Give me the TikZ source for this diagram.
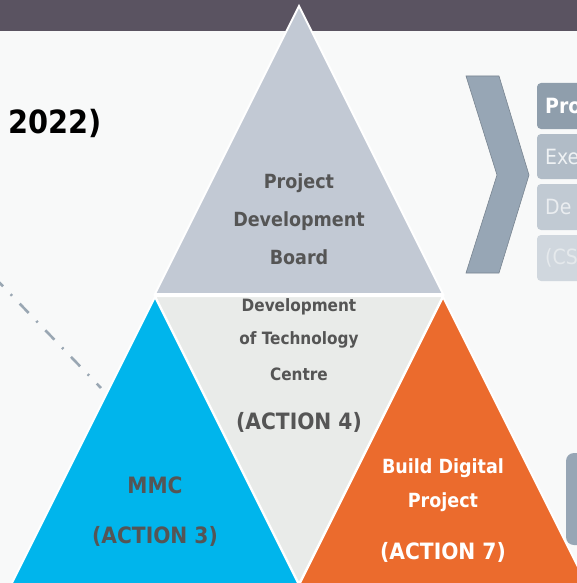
\documentclass[tikz,border=0pt]{standalone}
\usepackage{fontspec}
\setmainfont{DejaVu Sans Condensed}
\usetikzlibrary{positioning}
\definecolor{barpurple}{HTML}{5A5361}
\definecolor{paper}{HTML}{F8F9F9}
\definecolor{boardgray}{HTML}{C2C9D4}
\definecolor{centregray}{HTML}{E9EBE9}
\definecolor{mmcblue}{HTML}{00B5EC}
\definecolor{buildorange}{HTML}{EB6B2D}
\definecolor{chevgray}{HTML}{97A6B5}
\definecolor{inkgray}{HTML}{555555}
\definecolor{linegray}{HTML}{9AA7B3}
\tikzset{
  x=1pt, y=-1pt,
  tri/.style={draw=white, line width=2pt, line join=miter},
  lbl/.style={font=\bfseries\fontsize{19.5}{22}\selectfont, text=inkgray, inner sep=0pt},
  small lbl/.style={lbl, font=\bfseries\fontsize{17}{20}\selectfont},
  big lbl/.style={lbl, font=\bfseries\fontsize{22.5}{26}\selectfont},
  tab/.style={rounded corners=4pt, inner sep=0pt},
  tab text/.style={anchor=west, inner sep=0pt, font=\fontsize{21}{24}\selectfont, text=white},
}

\begin{document}
\begin{tikzpicture}
      \clip (0,0) rectangle (577,583);
      \fill[paper] (0,0) rectangle (577,583);
      \fill[barpurple] (0,0) rectangle (577,31);

      % heading cut off at the left
      \node[anchor=west, inner sep=0pt, font=\bfseries\fontsize{32}{36}\selectfont] (year) at (8,123) {2022)};

      % dash-dot leader
      \coordinate (lead0) at (-6,277);
      \coordinate (lead1) at (101,388);
      \draw[linegray, line width=2.6pt, dash pattern=on 13pt off 11pt on 2pt off 11pt] (lead0) -- (lead1);

      % the four triangles
      \fill[boardgray, tri]   (299,6) -- (443,294) -- (155,294) -- cycle;
      \fill[centregray, tri]  (155,296) -- (443,296) -- (299,584) -- cycle;
      \fill[mmcblue, tri]     (155,297) -- (306.5,600) -- (3.5,600) -- cycle;
      \fill[buildorange, tri] (443,297) -- (594.5,600) -- (291.5,600) -- cycle;

      \node[lbl]                                   (pdb1) at (299,183) {Project};
      \node[lbl, below of=pdb1, node distance=38pt] (pdb2) {Development};
      \node[lbl, below of=pdb2, node distance=36pt] (pdb3) {Board};

      \node[small lbl]                                   (dtc1) at (299,307) {Development};
      \node[small lbl, below of=dtc1, node distance=33pt] (dtc2) {of Technology};
      \node[small lbl, below of=dtc2, node distance=34pt] (dtc3) {Centre};
      \node[big lbl, below of=dtc3, node distance=48pt]   (dtc4) {(ACTION 4)};

      \node[big lbl]                                   (mmc1) at (155,485) {MMC};
      \node[big lbl, below of=mmc1, node distance=51pt] (mmc2) {(ACTION 3)};

      \node[lbl, text=white]                                   (bdp1) at (443,468) {Build Digital};
      \node[lbl, text=white, below of=bdp1, node distance=34pt] (bdp2) {Project};
      \node[big lbl, text=white, below of=bdp2, node distance=50pt] (bdp3) {(ACTION 7)};

      % chevron
      \filldraw[fill=chevgray, draw=chevgray!80!black, line width=0.6pt]
        (466,76) -- (499,76) -- (529,175) -- (499,273) -- (466,273) -- (497,175) -- cycle;

      % tabs on the right, cut off by the edge
      \fill[tab, fill=chevgray!95!black] (537,83)  rectangle (620,129);
      \fill[tab, fill=chevgray!75!white] (537,134) rectangle (620,179);
      \fill[tab, fill=chevgray!60!white] (537,184) rectangle (620,230);
      \fill[tab, fill=chevgray!45!white] (537,235) rectangle (620,281);
      \node[tab text, font=\bfseries\fontsize{21}{24}\selectfont] (tab1) at (545,106) {Pro};
      \node[tab text, text=white!85!chevgray] (tab2) at (545,157) {Exe};
      \node[tab text, text=white!80!chevgray] (tab3) at (545,207) {De};
      \node[tab text, text=white!75!chevgray] (tab4) at (545,258) {(CS};

      % box at the lower right
      \fill[rounded corners=8pt, chevgray] (566,453) rectangle (620,545);
    \end{tikzpicture}
\end{document}
